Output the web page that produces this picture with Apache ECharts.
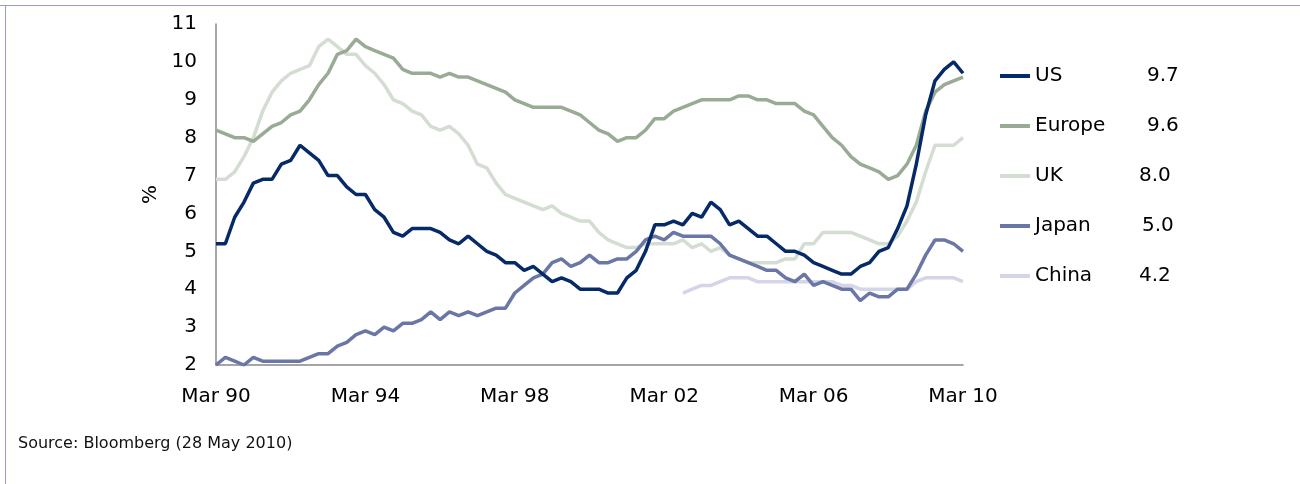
<!DOCTYPE html>
<html>
<head>
<meta charset="utf-8">
<script src="https://cdn.jsdelivr.net/npm/echarts@6/dist/echarts.min.js"></script>
<style>
  html, body { margin: 0; padding: 0; background: #fff; }
  #chart { width: 1300px; height: 484px; }
</style>
</head>
<body>
<div id="chart"></div>
<script>
// quarterly, Mar 90 .. Mar 10
const startYear = 1990
const endYear = 2010
const months = ['Mar', 'Jun', 'Sep', 'Dec']

const us = [
  5.2, 5.2, 5.9, 6.3, 6.8, 6.9, 6.9, 7.3, 7.4, 7.8, 7.6,
  7.4, 7.0, 7.0, 6.7, 6.5, 6.5, 6.1, 5.9, 5.5, 5.4,
  5.6, 5.6, 5.6, 5.5, 5.3, 5.2, 5.4, 5.2, 5.0, 4.9,
  4.7, 4.7, 4.5, 4.6, 4.4, 4.2, 4.3, 4.2, 4.0, 4.0,
  4.0, 3.9, 3.9, 4.3, 4.5, 5.0, 5.7, 5.7, 5.8, 5.7,
  6.0, 5.9, 6.3, 6.1, 5.7, 5.8, 5.6, 5.4, 5.4, 5.2,
  5.0, 5.0, 4.9, 4.7, 4.6, 4.5, 4.4, 4.4, 4.6, 4.7,
  5.0, 5.1, 5.6, 6.2, 7.3, 8.6, 9.5, 9.8, 10.0, 9.7
]
const europe = [
  8.2, 8.1, 8.0, 8.0, 7.9, 8.1, 8.3, 8.4, 8.6, 8.7, 9.0,
  9.4, 9.7, 10.2, 10.3, 10.6, 10.4, 10.3, 10.2, 10.1, 9.8,
  9.7, 9.7, 9.7, 9.6, 9.7, 9.6, 9.6, 9.5, 9.4, 9.3,
  9.2, 9.0, 8.9, 8.8, 8.8, 8.8, 8.8, 8.7, 8.6, 8.4,
  8.2, 8.1, 7.9, 8.0, 8.0, 8.2, 8.5, 8.5, 8.7, 8.8,
  8.9, 9.0, 9.0, 9.0, 9.0, 9.1, 9.1, 9.0, 9.0, 8.9,
  8.9, 8.9, 8.7, 8.6, 8.3, 8.0, 7.8, 7.5, 7.3, 7.2,
  7.1, 6.9, 7.0, 7.3, 7.8, 8.7, 9.2, 9.4, 9.5, 9.6
]
const uk = [
  6.9, 6.9, 7.1, 7.5, 8.0, 8.7, 9.2, 9.5, 9.7, 9.8, 9.9,
  10.4, 10.6, 10.4, 10.2, 10.2, 9.9, 9.7, 9.4, 9.0, 8.9,
  8.7, 8.6, 8.3, 8.2, 8.3, 8.1, 7.8, 7.3, 7.2, 6.8,
  6.5, 6.4, 6.3, 6.2, 6.1, 6.2, 6.0, 5.9, 5.8, 5.8,
  5.5, 5.3, 5.2, 5.1, 5.1, 5.2, 5.2, 5.2, 5.2, 5.3,
  5.1, 5.2, 5.0, 5.1, 4.9, 4.8, 4.7, 4.7, 4.7, 4.7,
  4.8, 4.8, 5.2, 5.2, 5.5, 5.5, 5.5, 5.5, 5.4, 5.3,
  5.2, 5.2, 5.4, 5.8, 6.3, 7.1, 7.8, 7.8, 7.8, 8.0
]
const japan = [
  2.0, 2.2, 2.1, 2.0, 2.2, 2.1, 2.1, 2.1, 2.1, 2.1, 2.2,
  2.3, 2.3, 2.5, 2.6, 2.8, 2.9, 2.8, 3.0, 2.9, 3.1,
  3.1, 3.2, 3.4, 3.2, 3.4, 3.3, 3.4, 3.3, 3.4, 3.5,
  3.5, 3.9, 4.1, 4.3, 4.4, 4.7, 4.8, 4.6, 4.7, 4.9,
  4.7, 4.7, 4.8, 4.8, 5.0, 5.3, 5.4, 5.3, 5.5, 5.4,
  5.4, 5.4, 5.4, 5.2, 4.9, 4.8, 4.7, 4.6, 4.5, 4.5,
  4.3, 4.2, 4.4, 4.1, 4.2, 4.1, 4.0, 4.0, 3.7, 3.9,
  3.8, 3.8, 4.0, 4.0, 4.4, 4.9, 5.3, 5.3, 5.2, 5.0
]
// China series starts Jun 02
const china = [
  null, null, null, null, null, null, null, null, null, null, null,
  null, null, null, null, null, null, null, null, null, null,
  null, null, null, null, null, null, null, null, null, null,
  null, null, null, null, null, null, null, null, null, null,
  null, null, null, null, null, null, null, null, null, 3.9,
  4.0, 4.1, 4.1, 4.2, 4.3, 4.3, 4.3, 4.2, 4.2, 4.2,
  4.2, 4.2, 4.2, 4.2, 4.2, 4.2, 4.1, 4.1, 4.0, 4.0,
  4.0, 4.0, 4.0, 4.0, 4.2, 4.3, 4.3, 4.3, 4.3, 4.2
]

const names = ['US', 'Europe', 'UK', 'Japan', 'China']
const latest = ['9.7', '9.6', '8.0', '5.0', '4.2']
const colors = ['#062a68', '#9aab95', '#d3ddd1', '#6a76a6', '#d4d5e8']
const yTicks = [2, 3, 4, 5, 6, 7, 8, 9, 10, 11]

const quarters = []
for (let y = startYear; y <= endYear; y++) {
  months.forEach(m => {
    if (y === endYear && m !== 'Mar') return
    quarters.push(m + ' ' + String(y).slice(2))
  })
}

const font = 'DejaVu Sans, Verdana, sans-serif'
const chart = echarts.init(document.getElementById('chart'))
const seriesData = [us, europe, uk, japan, china]

const option = {
  backgroundColor: '#fff',
  animation: false,
  textStyle: { fontFamily: font },
  grid: { left: 216, right: 337, top: 24, bottom: 119 },
  graphic: [
    { type: 'line', shape: { x1: 0, y1: 5.5, x2: 1300, y2: 5.5 }, style: { stroke: '#9a9dc2', lineWidth: 1 } },
    { type: 'line', shape: { x1: 5.5, y1: 5, x2: 5.5, y2: 484 }, style: { stroke: '#9a9dc2', lineWidth: 1 } },
    {
      type: 'text', left: 18, top: 436,
      style: { text: 'Source: Bloomberg (28 May 2010)', font: '16px ' + font, fill: '#111' }
    }
  ],
  legend: {
    orient: 'vertical',
    left: 995,
    top: 61,
    itemWidth: 30,
    itemHeight: 12,
    itemGap: 30,
    data: names.map((n, i) => ({ name: n, icon: 'path://M0,0 L30,0 L30,4 L0,4 Z', itemStyle: { color: colors[i] } })),
    formatter: name => {
      const i = names.indexOf(name)
      const st = ['a1', 'a1', 'a3', 'a2', 'a3'][i]
      return '{' + st + '|' + name + '}{v|' + latest[i] + '}'
    },
    textStyle: {
      fontSize: 20,
      color: '#000',
      rich: {
        a1: { width: 112, fontSize: 20, color: '#000' },
        a2: { width: 107, fontSize: 20, color: '#000' },
        a3: { width: 104, fontSize: 20, color: '#000' },
        v: { fontSize: 20, color: '#000' }
      }
    }
  },
  xAxis: {
    type: 'category',
    data: quarters,
    boundaryGap: false,
    axisLine: { lineStyle: { color: '#888', width: 1.5 } },
    axisTick: { show: false },
    axisLabel: { interval: 15, fontSize: 20, color: '#000', margin: 22 },
    splitLine: { show: false }
  },
  yAxis: {
    type: 'value',
    min: yTicks[0],
    max: yTicks[yTicks.length - 1],
    interval: 1,
    name: '%',
    nameLocation: 'middle',
    nameRotate: 90,
    nameGap: 53,
    nameTextStyle: { fontSize: 20, color: '#000' },
    axisLine: { show: true, lineStyle: { color: '#888', width: 1.5 } },
    axisTick: { show: false },
    axisLabel: { fontSize: 20, color: '#000', margin: 19 },
    splitLine: { show: false }
  },
  series: names.map((n, i) => ({
    name: n,
    type: 'line',
    data: seriesData[i],
    symbol: 'none',
    lineStyle: { color: colors[i], width: 3.5 },
    itemStyle: { color: colors[i] }
  }))
}
// draw order: light ones underneath
option.series[0].z = 6
option.series[1].z = 5
option.series[2].z = 3
option.series[3].z = 4
option.series[4].z = 2

chart.setOption(option)
</script>
</body>
</html>
